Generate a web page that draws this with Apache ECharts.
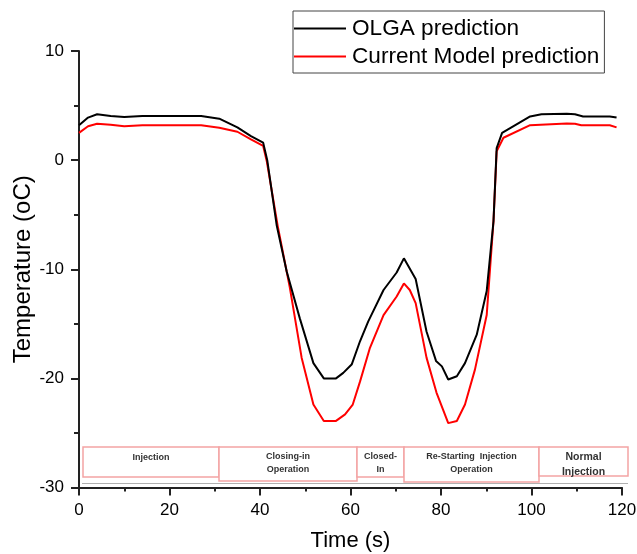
<!DOCTYPE html>
<html>
<head>
<meta charset="utf-8">
<script src="https://cdn.jsdelivr.net/npm/echarts@6/dist/echarts.min.js"></script>
<style>
html,body{margin:0;padding:0;background:#fff;}
#chart{width:637px;height:554px;}
</style>
</head>
<body>
<div id="chart"></div>
<script>
// ---- data ----
const olgaTime = [0, 2, 4, 7, 10, 14, 20, 27, 31, 35, 38, 40.7, 41.6, 43.7, 45.9, 48.8, 51.8, 54.1, 56.8, 58.4, 60.3, 62.1, 63.9, 67.3, 70.2, 71.8, 74.4, 76.8, 78.9, 80.2, 81.6, 83.5, 85.3, 87.9, 90.1, 91.6, 92.3, 93.5, 99.7, 102.2, 107.8, 109.6, 111.4, 117.3, 118.8];
const olgaTemp = [3.2, 3.9, 4.2, 4.05, 3.95, 4.05, 4.05, 4.05, 3.8, 3.0, 2.2, 1.6, 0.0, -6.0, -10.2, -14.5, -18.6, -20.0, -20.0, -19.5, -18.7, -16.6, -14.8, -11.9, -10.3, -9.0, -10.9, -15.7, -18.4, -18.9, -20.1, -19.8, -18.6, -16.0, -12.0, -5.6, 1.1, 2.5, 4.0, 4.2, 4.25, 4.2, 4.0, 4.0, 3.9];

const modelTime = [0, 2, 4, 7, 10, 14, 20, 27, 31, 35, 38, 40.7, 41.5, 43.9, 46.6, 49.2, 51.8, 54.1, 56.8, 58.8, 60.5, 62.1, 64.3, 67.3, 70.2, 71.8, 73.1, 74.4, 76.8, 79.0, 81.6, 83.5, 85.3, 87.5, 90.1, 91.6, 92.3, 93.8, 99.7, 107.8, 109.6, 111.0, 117.3, 118.8];
const modelTemp = [2.5, 3.1, 3.33, 3.25, 3.1, 3.2, 3.2, 3.2, 2.96, 2.6, 1.9, 1.3, -0.1, -6.0, -11.7, -18.1, -22.4, -23.9, -23.9, -23.3, -22.4, -20.3, -17.2, -14.2, -12.5, -11.3, -11.9, -13.1, -18.1, -21.3, -24.1, -23.9, -22.4, -19.2, -14.2, -5.6, 0.8, 2.05, 3.2, 3.36, 3.33, 3.2, 3.2, 3.0];

const seriesNames = ['OLGA prediction', 'Current Model prediction'];
const phaseLabels = ['Injection', 'Closing-in\nOperation', 'Closed-\nIn', 'Re-Starting  Injection\nOperation', 'Normal\nInjection'];

const xTicks = {min: 0, max: 120, interval: 20};
const yTicks = {min: -30, max: 10, interval: 10};

function pairs(xs, ys){ return xs.map((x,i)=>[x, ys[i]]); }

// ---- chart ----
const chart = echarts.init(document.getElementById('chart'), null, {renderer:'canvas'});
const font = 'Liberation Sans, Arial, sans-serif';

const boxes = [
  {x:83, y:447, w:136, h:30, text:phaseLabels[0], fs:9},
  {x:219, y:447, w:138, h:34, text:phaseLabels[1], fs:9},
  {x:357, y:447, w:47, h:30, text:phaseLabels[2], fs:9},
  {x:404, y:447, w:135, h:35, text:phaseLabels[3], fs:9},
  {x:539, y:447, w:89, h:29, text:phaseLabels[4], fs:10.5}
];

const graphics = [
  {type:'line', shape:{x1:82, y1:483.5, x2:628, y2:483.5}, style:{stroke:'#b0b0b0', lineWidth:1}, z:10}
];
boxes.forEach(b=>{
  graphics.push({type:'rect', shape:{x:b.x, y:b.y, width:b.w, height:b.h}, style:{fill:'#fff', stroke:'#f4a4a4', lineWidth:1.5}, z:11});
  graphics.push({type:'text', x:b.x + b.w/2, y:b.y + (b.text.indexOf('\n')>=0 ? 3 : 4.5), style:{text:b.text, fill:'#333', font:'bold '+b.fs+'px '+font, align:'center', verticalAlign:'top', lineHeight:b.fs+4}, z:12});
});

chart.setOption({
  animation:false,
  backgroundColor:'#fff',
  grid:{left:79, right:15, top:51, bottom:66.5, containLabel:false, outerBoundsMode:'none'},
  legend:{
    orient:'vertical', left:293, top:11,
    padding:[6,5,5,1], itemGap:5,
    borderColor:'#444', borderWidth:1,
    itemWidth:52, itemHeight:2, icon:'rect',
    textStyle:{fontFamily:font, fontSize:22.6, color:'#000', padding:[0,0,0,1]},
    data:seriesNames
  },
  xAxis:{
    type:'value', min:xTicks.min, max:xTicks.max, interval:xTicks.interval,
    name:'Time (s)', nameLocation:'middle', nameGap:42, nameMoveOverlap:false,
    nameTextStyle:{fontFamily:font, fontSize:22, color:'#000'},
    axisLine:{show:true, onZero:false, lineStyle:{color:'#222', width:2}},
    axisTick:{show:true, inside:false, length:8, lineStyle:{color:'#222', width:2}},
    minorTick:{show:true, splitNumber:2, length:4, lineStyle:{color:'#222', width:2}},
    axisLabel:{fontFamily:font, fontSize:17, color:'#000', margin:14},
    splitLine:{show:false}
  },
  yAxis:{
    type:'value', min:yTicks.min, max:yTicks.max, interval:yTicks.interval,
    name:'Temperature (oC)', nameLocation:'middle', nameGap:44, nameRotate:90, nameMoveOverlap:false,
    nameTextStyle:{fontFamily:font, fontSize:24, color:'#000'},
    axisLine:{show:true, onZero:false, lineStyle:{color:'#222', width:2}},
    axisTick:{show:true, inside:false, length:8, lineStyle:{color:'#222', width:2}},
    minorTick:{show:true, splitNumber:2, length:5, lineStyle:{color:'#222', width:2}},
    axisLabel:{fontFamily:font, fontSize:17, color:'#000', margin:15},
    splitLine:{show:false}
  },
  series:[
    {name:seriesNames[0], type:'line', data:pairs(olgaTime, olgaTemp), symbol:'none', color:'#000', lineStyle:{color:'#000', width:2}, z:3},
    {name:seriesNames[1], type:'line', data:pairs(modelTime, modelTemp), symbol:'none', color:'#ff0000', lineStyle:{color:'#ff0000', width:2}, z:2}
  ],
  graphic:graphics
});
</script>
</body>
</html>
